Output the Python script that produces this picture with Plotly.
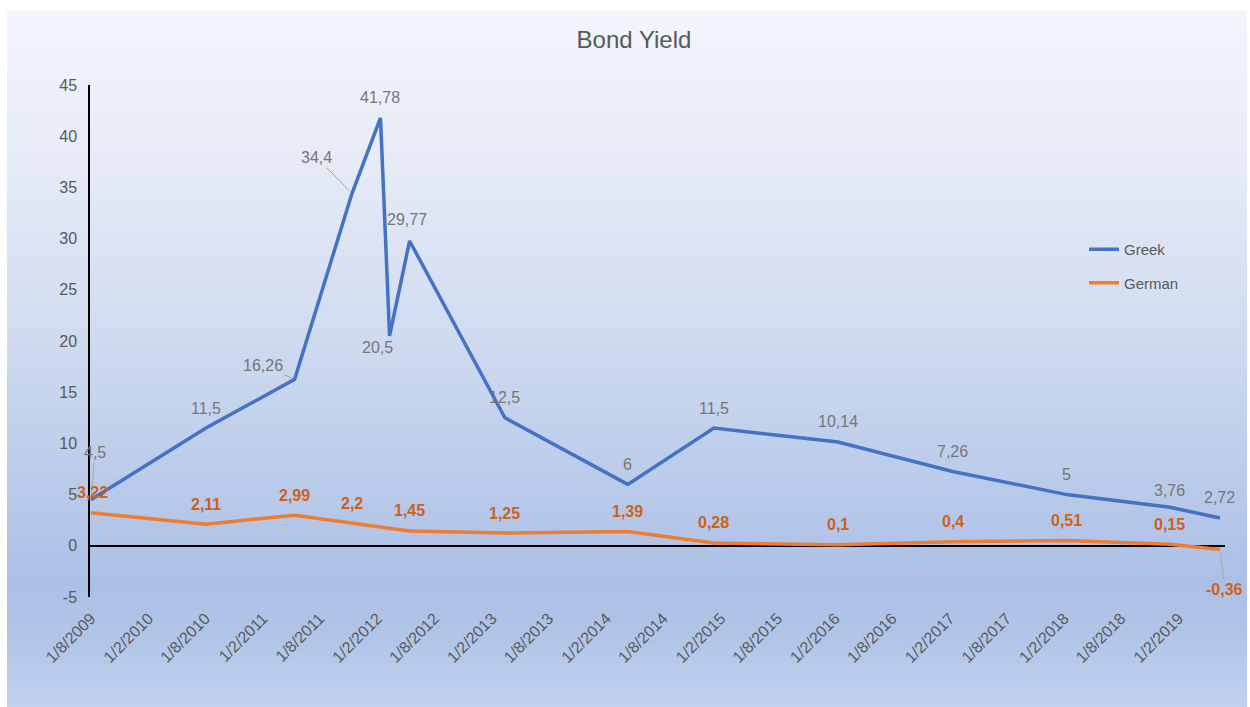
import plotly.graph_objects as go

# Observation dates (ISO) and yields in percent
dates = [
    "2009-08-01", "2010-08-03", "2011-05-13", "2011-11-12", "2012-02-11",
    "2012-03-11", "2012-05-14", "2013-03-14", "2014-04-10", "2015-01-10",
    "2016-02-10", "2017-02-10", "2018-02-09", "2019-01-04", "2019-06-13",
]
greek = [4.5, 11.5, 16.26, 34.4, 41.78, 20.5, 29.77, 12.5, 6, 11.5, 10.14, 7.26, 5, 3.76, 2.72]
german = [3.22, 2.11, 2.99, 2.2, 1.8, 1.75, 1.45, 1.25, 1.39, 0.28, 0.1, 0.4, 0.51, 0.15, -0.36]
# German points that carry a value label
german_labelled = [True, True, True, True, False, False, True, True, True, True, True, True, True, True, True]

tick_dates = [
    "2009-08-01", "2010-02-01", "2010-08-01", "2011-02-01", "2011-08-01",
    "2012-02-01", "2012-08-01", "2013-02-01", "2013-08-01", "2014-02-01",
    "2014-08-01", "2015-02-01", "2015-08-01", "2016-02-01", "2016-08-01",
    "2017-02-01", "2017-08-01", "2018-02-01", "2018-08-01", "2019-02-01",
]
y_ticks = [-5, 0, 5, 10, 15, 20, 25, 30, 35, 40, 45]
y_tick_text = ["-5", "0", "5", "10", "15", "20", "25", "30", "35", "40", "45"]

W, H = 1250, 707
ML, MR, MT, MB = 90, 25, 85, 110
PW, PH = W - ML - MR, H - MT - MB

GREY_TXT = "#595959"
BLUE = "#4472C4"
ORANGE = "#ED7D31"
GREEK_LBL = "#767676"
GERMAN_LBL = "#cc6218"
FONT = "Liberation Sans, Arial, sans-serif"


def fmt(v):
    return f"{v:g}".replace(".", ",")


fig = go.Figure()
fig.add_trace(go.Scatter(x=dates, y=greek, mode="lines", name="Greek",
                         line=dict(color=BLUE, width=3.5), legendgroup="a"))
fig.add_trace(go.Scatter(x=dates, y=german, mode="lines", name="German",
                         line=dict(color=ORANGE, width=3.5), legendgroup="b"))

# label placement per point: (xshift, yshift) for plain labels or
# ("lead", ax, ay) for labels joined to their point by a leader line
greek_pos = {0: ("lead", 4, -47), 2: ("lead", -32, -14), 3: ("lead", -35, -36),
             5: (-12, -12), 6: (-3, 21), 13: (0, 17)}
german_pos = {0: (2, 20), 14: ("lead", 5, 40)}

annotations = []


def add_labels(values, positions, color, bold, show=None):
    for i, (d, v) in enumerate(zip(dates, values)):
        if show is not None and not show[i]:
            continue
        txt = fmt(v)
        if bold:
            txt = f"<b>{txt}</b>"
        p = positions.get(i, (0, 20))
        base = dict(x=d, y=v, xref="x", yref="y", text=txt,
                    font=dict(family=FONT, size=16, color=color))
        if p[0] == "lead":
            base.update(showarrow=True, arrowhead=0, arrowwidth=1,
                        arrowcolor="#a6a6a6", ax=p[1], ay=p[2], standoff=3)
        else:
            base.update(showarrow=False, xshift=p[0], yshift=p[1])
        annotations.append(base)


add_labels(greek, greek_pos, GREEK_LBL, False)
add_labels(german, german_pos, GERMAN_LBL, True, german_labelled)

# vertical background gradient drawn as thin horizontal bands
stops = [(11, (243, 245, 251)), (150, (231, 236, 247)), (300, (213, 223, 242)),
         (450, (191, 206, 235)), (580, (172, 192, 230)), (640, (177, 197, 232)),
         (707, (194, 210, 238))]


def col_at(py):
    for (p0, c0), (p1, c1) in zip(stops, stops[1:]):
        if p0 <= py <= p1:
            t = (py - p0) / (p1 - p0)
            return "rgb(%d,%d,%d)" % tuple(round(a + (b - a) * t) for a, b in zip(c0, c1))
    return "rgb(%d,%d,%d)" % stops[-1][1]


shapes = []
band = 4
py = 11
while py < H:
    py2 = min(py + band, H)
    shapes.append(dict(type="rect", xref="paper", yref="paper", layer="below",
                       x0=(7 - ML) / PW, x1=(1247 - ML) / PW,
                       y0=(H - MB - py2) / PH, y1=(H - MB - py) / PH,
                       line=dict(width=0), fillcolor=col_at((py + py2) / 2)))
    py = py2

fig.update_layout(
    width=W, height=H,
    margin=dict(l=ML, r=MR, t=MT, b=MB),
    paper_bgcolor="white",
    plot_bgcolor="rgba(0,0,0,0)",
    shapes=shapes,
    annotations=annotations,
    title=dict(text="Bond Yield", x=634 / W, y=1 - 40 / H, xref="container", yref="container",
               xanchor="center", yanchor="middle",
               font=dict(family=FONT, size=24, color=GREY_TXT)),
    font=dict(family=FONT, size=16, color=GREY_TXT),
    showlegend=True,
    legend=dict(x=(1084 - ML) / PW, y=(H - MB - 233) / PH, xanchor="left", yanchor="top",
                bgcolor="rgba(0,0,0,0)", font=dict(family=FONT, size=15, color=GREY_TXT),
                traceorder="grouped", tracegroupgap=11, itemwidth=30),
    xaxis=dict(type="date", range=["2009-07-29", "2019-06-29"],
               tickvals=tick_dates, tickformat="%-d/%-m/%Y", tickangle=-45,
               showgrid=False, zeroline=False, showline=False, ticks="",
               tickfont=dict(family=FONT, size=16, color=GREY_TXT),
               ticklabelstandoff=8),
    yaxis=dict(range=[-5, 45], tickvals=y_ticks, ticktext=y_tick_text, showgrid=False,
               zeroline=True, zerolinecolor="black", zerolinewidth=1.5,
               showline=True, linecolor="black", linewidth=1.5, ticks="",
               tickfont=dict(family=FONT, size=16, color=GREY_TXT),
               ticklabelstandoff=8),
)

fig.write_html("out.html")
